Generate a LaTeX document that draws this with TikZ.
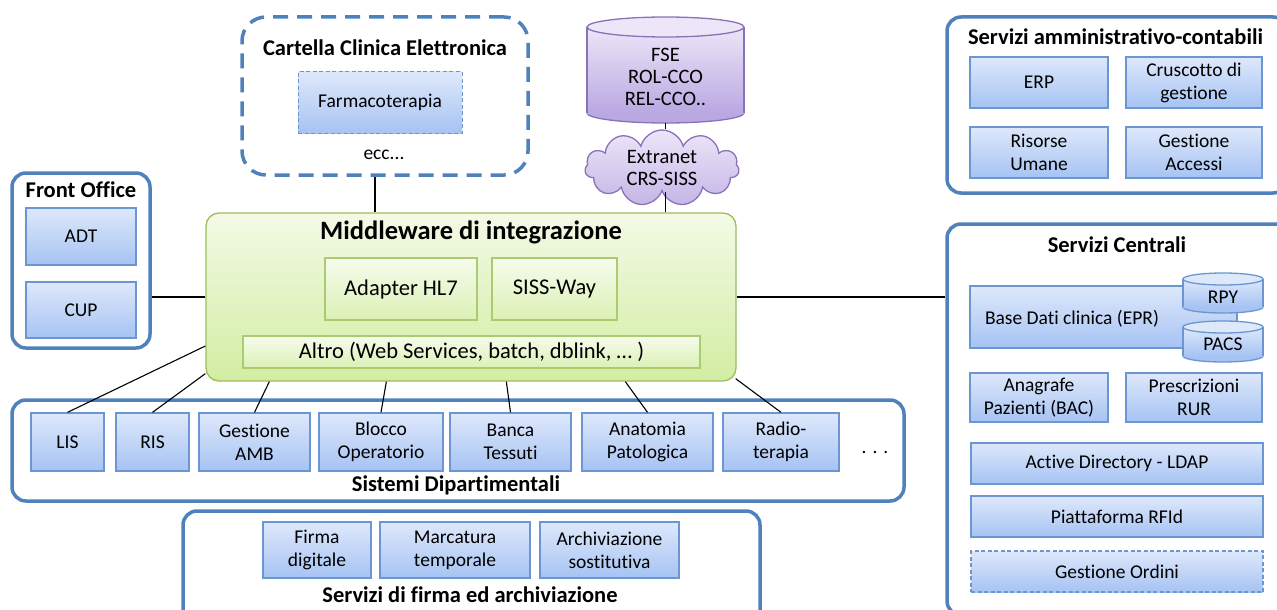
\documentclass[tikz,border=0pt]{standalone}
\usepackage{fontspec}
\setmainfont{Carlito}[Ligatures={NoCommon}]
\usetikzlibrary{shapes.symbols,calc}

\definecolor{frame}{RGB}{79,129,189}
\definecolor{bxtop}{RGB}{222,232,251}
\definecolor{bxbot}{RGB}{166,195,243}
\definecolor{bxline}{RGB}{108,150,210}
\definecolor{gntop}{RGB}{243,250,230}
\definecolor{gnbot}{RGB}{210,237,162}
\definecolor{gnline}{RGB}{155,190,90}
\definecolor{gninline}{RGB}{172,202,112}
\definecolor{pptop}{RGB}{236,230,248}
\definecolor{ppbot}{RGB}{186,168,226}
\definecolor{ppline}{RGB}{138,114,184}

\newcommand\fnorm{\fontsize{19.5}{23}\selectfont}
\newcommand\fmid{\fontsize{22.5}{26}\selectfont}
\newcommand\fpurple{\fontsize{20.5}{22}\selectfont}
\newcommand\fhead{\fontsize{22.5}{26}\selectfont\bfseries}
\newcommand\fmain{\fontsize{26.5}{30}\selectfont\bfseries}

\begin{document}
\begin{tikzpicture}[x=1pt,y=-1pt,
  sz/.style 2 args={minimum width=#1pt,minimum height=#2pt},
  group/.style={draw=frame,line width=3.5pt,rounded corners=14pt,fill=white,inner sep=0pt},
  dgroup/.style={draw=frame,line width=3.5pt,rounded corners=24pt,fill=white,inner sep=0pt,
    dash pattern=on 15pt off 9pt},
  head/.style={font=\fhead,inner sep=0pt},
  txt/.style={font=\fnorm,align=center,inner sep=0pt},
  svc/.style={draw=bxline,line width=1.3pt,top color=bxtop,bottom color=bxbot,
    font=\fnorm,align=center,inner sep=0pt},
  dsvc/.style={svc,dash pattern=on 4pt off 2.5pt},
  mid/.style={draw=gnline,line width=1.3pt,rounded corners=13pt,top color=gntop,
    bottom color=gnbot,inner sep=0pt},
  midsub/.style={draw=gninline,line width=1.3pt,top color=gntop!70!white,
    bottom color=gnbot!80!white,font=\fmid,align=center,inner sep=0pt},
  link/.style={line width=1.7pt},
  thin link/.style={line width=1.1pt},
]
\useasboundingbox (0,0) rectangle (1277,610);
\clip (0,0) rectangle (1277,610);

% ---------- group frames ----------
\node[dgroup,sz={286}{158}] (cart) at (385,96) {};
\node[group,sz={138}{175}] (fo) at (81,260.5) {};
\node[group,sz={340}{176}] (adm) at (1117,105) {};
\node[group,sz={343}{391}] (sc) at (1118.5,419.5) {};
\node[group,sz={892}{101}] (dip) at (458,450.5) {};
\node[group,sz={577}{114}] (firma) at (471.5,568) {};

% ---------- Cartella Clinica Elettronica ----------
\node[head] (carttitle) at (385,48) {Cartella Clinica Elettronica};
\node[dsvc,sz={164}{61},line width=1pt] (farm) at (380,102.5) {Farmacoterapia};
\node[txt] (ecc) at (384,155) {ecc...};

% ---------- FSE repository ----------
\fill[ppbot] (665.5,113) ellipse [x radius=78.5pt, y radius=10pt];
\draw[ppline,line width=1.3pt] (665.5,113) ellipse [x radius=78.5pt, y radius=10pt];
\shade[top color=pptop,bottom color=ppbot] (587,27) rectangle (744,113);
\draw[ppline,line width=1.3pt] (587,27) -- (587,113) (744,27) -- (744,113);
\draw[ppline,line width=1.3pt,fill=pptop] (665.5,27) ellipse [x radius=78.5pt, y radius=10pt];
\node[txt,font=\fpurple] (fse) at (665.5,77) {FSE\\ROL-CCO\\REL-CCO..};
\coordinate (fsebot) at (665.5,123);

\node[cloud,cloud puffs=11,aspect=2.6,draw=ppline,line width=1.3pt,top color=pptop,
  bottom color=ppbot!85!white,sz={154}{58},inner sep=0pt,font=\fpurple,align=center]
  (cloud) at (662,168) {Extranet\\CRS-SISS};

% ---------- Front Office ----------
\node[head] (fotitle) at (81,190) {Front Office};
\node[svc,sz={110}{57}] (adt) at (81,236.5) {ADT};
\node[svc,sz={110}{56}] (cup) at (81,310) {CUP};

% ---------- Middleware ----------
\node[mid,sz={530}{168}] (mw) at (471,297) {};
\node[font=\fmain,inner sep=0pt] (mwtitle) at (471,232) {Middleware di integrazione};
\node[midsub,sz={152}{62}] (hl7) at (401,289) {Adapter HL7};
\node[midsub,sz={125}{62}] (siss) at (554.5,289) {SISS-Way};
\node[midsub,sz={457}{32}] (altro) at (471.5,352) {Altro (Web Services, batch, dblink, \dots\ )};

% ---------- Servizi amministrativo-contabili ----------
\node[head] (admtitle) at (1115.5,37) {Servizi amministrativo-contabili};
\node[svc,sz={138}{51}] (erp) at (1039,82.5) {ERP};
\node[svc,sz={136}{51}] (crus) at (1194,82.5) {Cruscotto di\\gestione};
\node[svc,sz={138}{51}] (hr) at (1039,152.5) {Risorse\\Umane};
\node[svc,sz={136}{51}] (acc) at (1194,152.5) {Gestione\\Accessi};

% ---------- Servizi Centrali ----------
\node[head] (sctitle) at (1117,245) {Servizi Centrali};
\node[svc,sz={267}{62}] (epr) at (1103.5,317) {};
\node[txt] (eprtxt) at (1072,319) {Base Dati clinica (EPR)};
% RPY and PACS repositories
\foreach \yt/\yb in {279/307,327/356}{
  \fill[bxbot] (1223,\yb) ellipse [x radius=40pt, y radius=6pt];
  \draw[bxline,line width=1.3pt] (1223,\yb) ellipse [x radius=40pt, y radius=6pt];
  \shade[top color=bxtop,bottom color=bxbot] (1183,\yt) rectangle (1263,\yb);
  \draw[bxline,line width=1.3pt] (1183,\yt) -- (1183,\yb) (1263,\yt) -- (1263,\yb);
  \draw[bxline,line width=1.3pt,fill=bxtop] (1223,\yt) ellipse [x radius=40pt, y radius=6pt];
}
\node[txt] (rpy) at (1223,297) {RPY};
\node[txt] (pacs) at (1223,344) {PACS};
\node[svc,sz={138}{49}] (bac) at (1039,397.5) {Anagrafe\\Pazienti (BAC)};
\node[svc,sz={136}{49}] (rur) at (1194,397.5) {Prescrizioni\\RUR};
\node[svc,sz={292}{41}] (ldap) at (1117,463.5) {Active Directory - LDAP};
\node[svc,sz={292}{41}] (rfid) at (1117,516.5) {Piattaforma RFId};
\node[dsvc,sz={292}{41}] (ord) at (1117,571.5) {Gestione Ordini};

% ---------- Sistemi Dipartimentali ----------
\node[head] (diptitle) at (456,485) {Sistemi Dipartimentali};
\node[svc,sz={73}{58}] (lis) at (67.5,442) {LIS};
\node[svc,sz={73}{58}] (ris) at (152.5,442) {RIS};
\node[svc,sz={111}{58}] (amb) at (254.5,442) {Gestione\\AMB};
\node[svc,sz={124}{58}] (blocco) at (381,442) {Blocco\\Operatorio};
\node[svc,sz={121}{58}] (banca) at (510.5,442) {Banca\\Tessuti};
\node[svc,sz={131}{58}] (anat) at (647.5,442) {Anatomia\\Patologica};
\node[svc,sz={116}{58}] (radio) at (781,442) {Radio-\\terapia};
\node[txt] (more) at (875,452) {.\hspace{6pt}.\hspace{6pt}.};

% ---------- Servizi di firma ed archiviazione ----------
\node[head] (firmatitle) at (470,595) {Servizi di firma ed archiviazione};
\node[svc,sz={108}{56}] (fd) at (317,550) {Firma\\digitale};
\node[svc,sz={150}{56}] (mt) at (455,550) {Marcatura\\temporale};
\node[svc,sz={139}{56}] (as) at (609.5,550) {Archiviazione\\sostitutiva};

% ---------- connectors ----------
\draw[link] ([xshift=-10pt]cart.south) -- ([xshift=-10pt]cart.south |- mw.north);
\draw[link] (fsebot) -- (fsebot |- cloud.north);
\draw[link] (cloud.south -| fsebot) -- (fsebot |- mw.north);
\draw[link] (mw.west) -- (mw.west -| fo.east);
\draw[link] (mw.east) -- (mw.east -| sc.west);

\draw[thin link] ($(mw.west)+(0,49)$) -- (lis.north);
\draw[thin link] ($(mw.south west)+(0,-8)$) -- (ris.north);
\draw[thin link] ($(mw.south west)+(64,0)$) -- (amb.north);
\draw[thin link] ($(mw.south west)+(181,0)$) -- (blocco.north);
\draw[thin link] ($(mw.south west)+(301,0)$) -- (banca.north);
\draw[thin link] ($(mw.south west)+(420,0)$) -- (anat.north);
\draw[thin link] ($(mw.south east)+(-1,-3)$) -- (radio.north);
\end{tikzpicture}
\end{document}
